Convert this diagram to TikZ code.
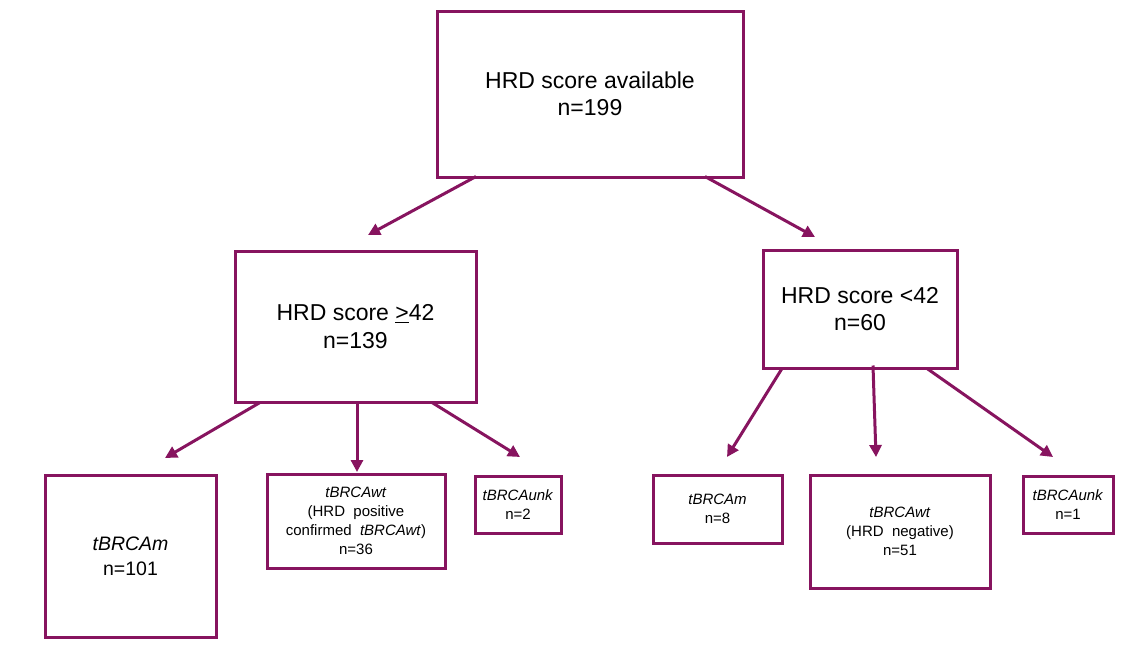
\documentclass[tikz,border=0pt]{standalone}
\usepackage{fontspec}
\setmainfont{Liberation Sans}
\usetikzlibrary{arrows.meta}
\definecolor{plum}{RGB}{135,20,95}
\begin{document}
\begin{tikzpicture}[x=1pt,y=-1pt,
  box/.style={draw=plum, line width=3pt, inner sep=0pt, align=center},
  big/.style={font=\fontsize{23}{27.5}\selectfont},
  mid/.style={font=\fontsize{19.5}{25}\selectfont},
  small/.style={font=\fontsize{15}{19}\selectfont},
  arr/.style={draw=plum, line width=3pt, -{Triangle[length=12pt,width=12pt]}}]
\useasboundingbox (0,0) rectangle (1136,654);
% level 0
\node[box, big, minimum width=306pt, minimum height=166pt] (top) at (590,94) {HRD score available\\n=199};
% level 1
\node[box, big, minimum width=241pt, minimum height=151pt] (ml) at (355.5,326.5) {HRD score \underline{>}42\\n=139};
\node[box, big, minimum width=194pt, minimum height=118pt] (mr) at (860,309) {HRD score <42\\n=60};
% level 2
\node[box, mid, minimum width=171pt, minimum height=162pt] (b1) at (130.5,556) {\textit{tBRCAm}\\n=101};
\node[box, small, minimum width=178pt, minimum height=94pt] (b2) at (356,521) {\textit{tBRCAwt}\\(HRD\ \ positive\\confirmed\ \ \textit{tBRCAwt})\\n=36};
\node[box, small, minimum width=86pt, minimum height=57pt] (b3) at (518,504.5) {\textit{tBRCAunk}\\n=2};
\node[box, small, minimum width=129pt, minimum height=68pt] (b4) at (717.5,509) {\textit{tBRCAm}\\n=8};
\node[box, small, minimum width=180pt, minimum height=113pt] (b5) at (900,531.5) {\textit{tBRCAwt}\\(HRD\ \ negative)\\n=51};
\node[box, small, minimum width=90pt, minimum height=57pt] (b6) at (1068,504.5) {\textit{tBRCAunk}\\n=1};
% arrow ends
\coordinate (e1) at (368,235);
\coordinate (e2) at (815,237);
\coordinate (e3) at (165,458);
\coordinate (e4) at (357,472);
\coordinate (e5) at (520,457);
\coordinate (e6) at (727,457);
\coordinate (e7) at (876,457);
\coordinate (e8) at (1053,457);
% arrows
\draw[arr] ([xshift=-114pt,yshift=2pt]top.south) -- (e1);
\draw[arr] ([xshift=115pt,yshift=2pt]top.south) -- (e2);
\draw[arr] ([xshift=-95.5pt,yshift=1pt]ml.south) -- (e3);
\draw[arr] ([xshift=1.5pt,yshift=1pt]ml.south) -- (e4);
\draw[arr] ([xshift=76.5pt,yshift=1pt]ml.south) -- (e5);
\draw[arr] ([xshift=-78pt,yshift=1pt]mr.south) -- (e6);
\draw[arr] ([xshift=13pt,yshift=4pt]mr.south) -- (e7);
\draw[arr] ([xshift=67pt,yshift=1pt]mr.south) -- (e8);
\end{tikzpicture}
\end{document}
